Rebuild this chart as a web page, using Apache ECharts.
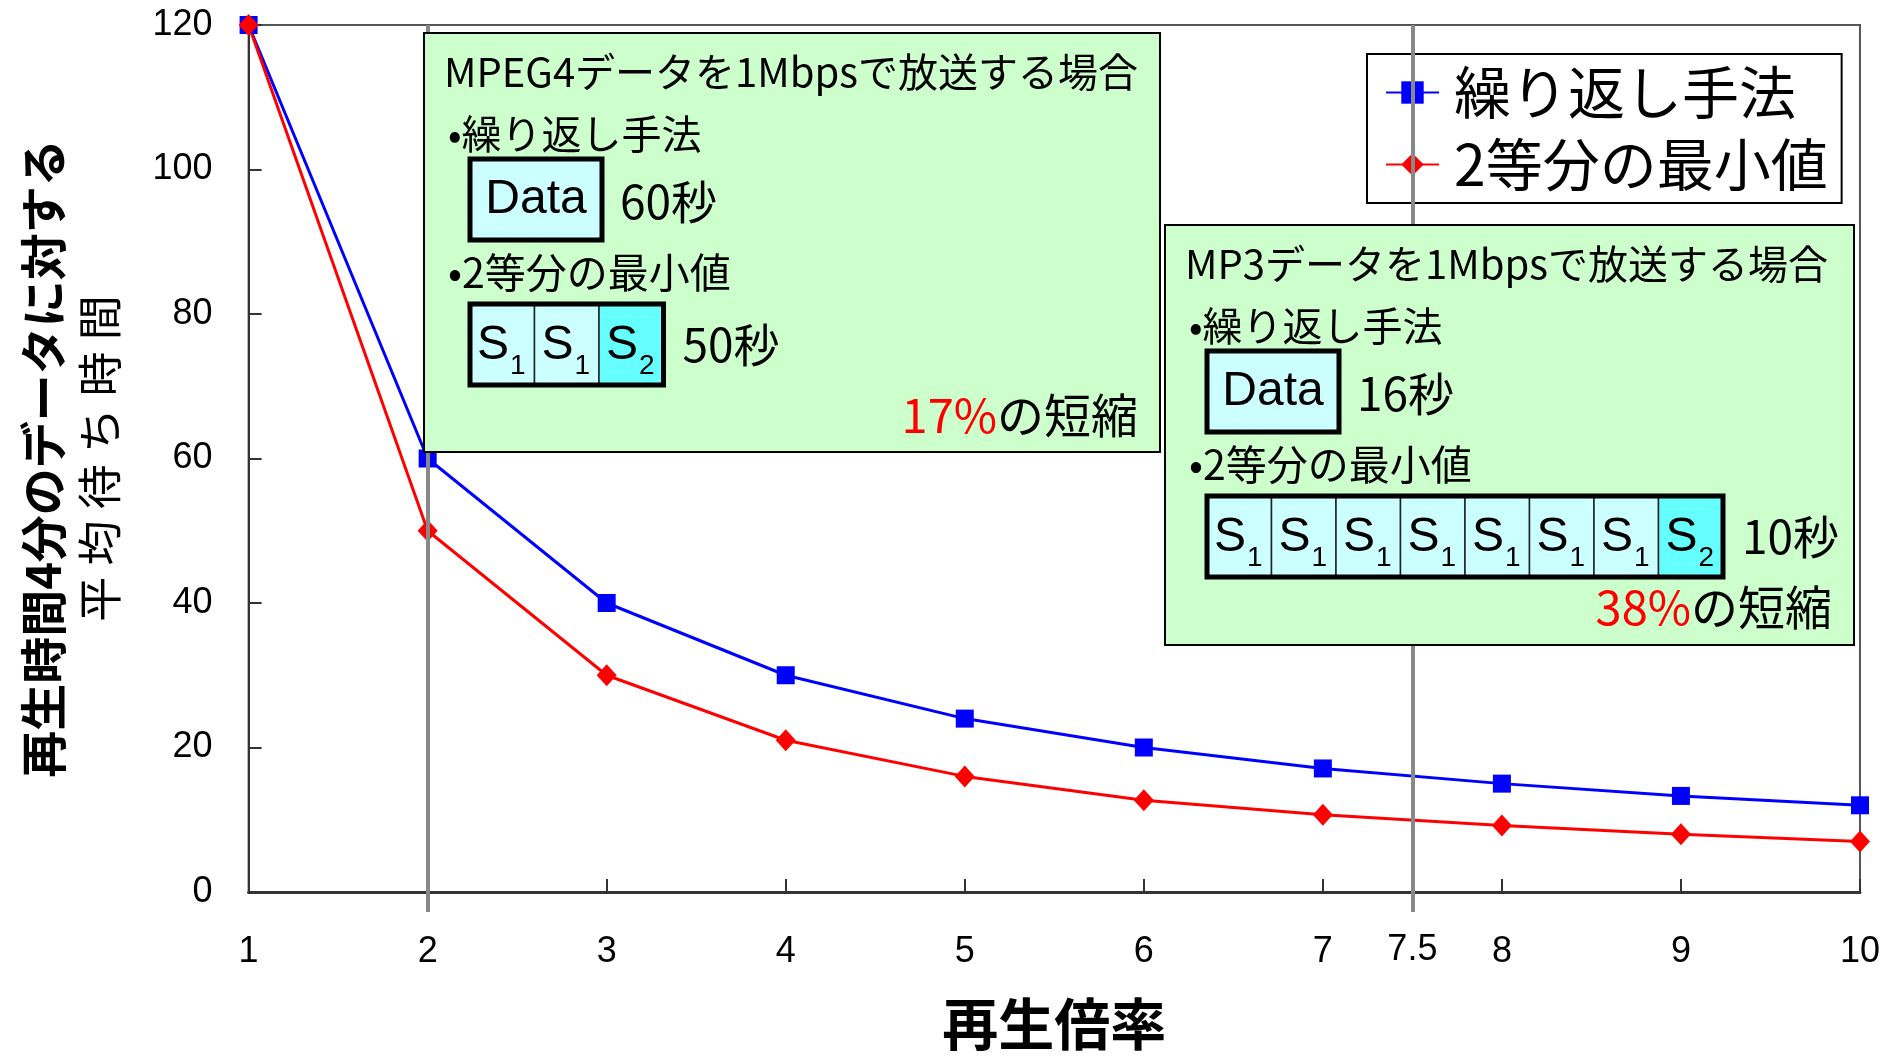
<!DOCTYPE html>
<html>
<head>
<meta charset="utf-8">
<title>再生倍率と平均待ち時間</title>
<script src="https://cdn.jsdelivr.net/npm/echarts@6/dist/echarts.min.js"></script>
<style>
  html, body { margin: 0; padding: 0; background: #fff; }
  #chart { width: 1883px; height: 1057px; }
</style>
</head>
<body>
<div id="chart"></div>
<script>
// 再生倍率
var rates = [1, 2, 3, 4, 5, 6, 7, 8, 9, 10]
// 平均待ち時間 (秒)
var repeatTimes = [120, 60, 40, 30, 24, 20, 17.1, 15, 13.3, 12]
var halfMinTimes = [120, 50, 30, 21, 16, 12.7, 10.7, 9.2, 8, 7]
var seriesNames = ['繰り返し手法', '2等分の最小値']
var guideRates = [2, 7.5]

var mpeg4Lines = ['MPEG4データを1Mbpsで放送する場合', '•繰り返し手法', '60秒', '•2等分の最小値', '50秒']
var mpeg4Cells = ['1', '1', '2']
var mpeg4Gain = ['17%', 'の短縮']
var mp3Lines = ['MP3データを1Mbpsで放送する場合', '•繰り返し手法', '16秒', '•2等分の最小値', '10秒']
var mp3Cells = ['1', '1', '1', '1', '1', '1', '1', '2']
var mp3Gain = ['38%', 'の短縮']

var cjk = "'Noto Sans CJK JP', sans-serif"
var sans = "'Liberation Sans', Arial, sans-serif"

function noteBox(x, y, w, h, pad, lines, cells, gain) {
  var els = []
  function txt(tx, ty, text, size, family, align, color) {
    els.push({
      type: 'text', x: tx, y: ty, z: 60,
      style: { text: text, fontSize: size, fontFamily: family, fill: color || '#000',
        textAlign: align || 'left', textVerticalAlign: 'middle' }
    })
  }
  els.push({ type: 'rect', z: 50, shape: { x: x, y: y, width: w, height: h },
    style: { fill: '#ccffcc', stroke: '#000', lineWidth: 2 } })
  txt(x + 20, y + 39, lines[0], 40, cjk)
  txt(x + 24, y + 101, lines[1], 40, cjk)
  // Data box
  var bx = x + pad
  els.push({ type: 'rect', z: 55, shape: { x: bx, y: y + 126, width: 132, height: 81 },
    style: { fill: '#ccffff', stroke: '#000', lineWidth: 5 } })
  txt(bx + 66, y + 167, 'Data', 48, sans, 'center')
  txt(bx + 150, y + 169, lines[2], 46, cjk)
  txt(x + 24, y + 239, lines[3], 41, cjk)
  // S cells
  var cw = 64.5
  var sy = y + 271
  cells.forEach(function (c, i) {
    els.push({ type: 'rect', z: 55, shape: { x: bx + i * cw, y: sy, width: cw, height: 81 },
      style: { fill: c === '2' ? '#66ffff' : '#ccffff', stroke: '#222', lineWidth: 1.5 } })
    els.push({ type: 'text', z: 60, x: bx + i * cw + 7, y: sy + 42,
      style: { text: 'S', fontSize: 48, fontFamily: sans, fill: '#000', textAlign: 'left', textVerticalAlign: 'middle' } })
    els.push({ type: 'text', z: 60, x: bx + i * cw + 40, y: sy + 62,
      style: { text: c, fontSize: 28, fontFamily: sans, fill: '#000', textAlign: 'left', textVerticalAlign: 'middle' } })
  })
  els.push({ type: 'rect', z: 58, shape: { x: bx, y: sy, width: cw * cells.length, height: 81 },
    style: { fill: null, stroke: '#000', lineWidth: 5 } })
  txt(bx + cw * cells.length + 19, y + 312, lines[4], 46, cjk)
  els.push({
    type: 'text', x: x + w - 22, y: y + 382, z: 60,
    style: {
      text: '{r|' + gain[0] + '}{k|' + gain[1] + '}', textAlign: 'right', textVerticalAlign: 'middle',
      rich: {
        r: { fontSize: 47, fontFamily: cjk, fill: '#ff0000', color: '#ff0000' },
        k: { fontSize: 47, fontFamily: cjk, fill: '#000', color: '#000' }
      }
    }
  })
  return els
}

var chart = echarts.init(document.getElementById('chart'))

chart.setOption({
  animation: false,
  backgroundColor: '#ffffff',
  grid: [
    { left: 248.6, right: 23, top: 25, bottom: 162.7, show: true, borderColor: '#555', borderWidth: 2 },
    { left: 248.6, right: 23, top: 25, bottom: 145 }
  ],
  legend: {
    data: seriesNames,
    orient: 'vertical',
    left: 1367,
    top: 54,
    padding: [9, 14, 9, 18],
    itemGap: 13,
    itemWidth: 53,
    itemHeight: 28,
    borderColor: '#000',
    borderWidth: 2,
    backgroundColor: '#fff',
    textStyle: { fontSize: 57, lineHeight: 59, color: '#000', fontFamily: cjk, padding: [0, 0, 0, 10] }
  },
  xAxis: [{
    type: 'value', min: 1, max: 10, interval: 1,
    name: '再生倍率', nameLocation: 'middle', nameGap: 104,
    nameTextStyle: { fontSize: 56, fontWeight: 'bold', color: '#000', fontFamily: cjk },
    axisLine: { lineStyle: { color: '#333', width: 3 } },
    axisTick: { inside: true, length: 13, lineStyle: { color: '#333', width: 2 } },
    axisLabel: { margin: 42, fontSize: 36, color: '#000', fontFamily: sans },
    splitLine: { show: false }
  }, {
    type: 'value', gridIndex: 1, min: 1, max: 10, show: false
  }],
  yAxis: [{
    type: 'value', min: 0, max: 120, interval: 20,
    name: '{a|再生時間4分のデータに対する}\n{b|平\u2005均\u2005待\u2005ち\u2005時\u2005間}',
    nameLocation: 'middle', nameRotate: 90, nameGap: 120,
    nameTextStyle: {
      rich: {
        a: { fontSize: 47, fontWeight: 'bold', fontFamily: cjk, color: '#000', lineHeight: 57 },
        b: { fontSize: 45, fontFamily: cjk, color: '#000', lineHeight: 57 }
      }
    },
    axisLine: { show: true, lineStyle: { color: '#333', width: 2 } },
    axisTick: { show: true, inside: true, length: 13, lineStyle: { color: '#333', width: 2 } },
    axisLabel: { margin: 36, fontSize: 36, color: '#000', fontFamily: sans },
    splitLine: { show: false }
  }, {
    type: 'value', gridIndex: 1, min: 0, max: 1, show: false
  }],
  series: [{
    name: seriesNames[0],
    type: 'line',
    data: rates.map(function (r, i) { return [r, repeatTimes[i]] }),
    color: '#0000ff',
    lineStyle: { width: 3, color: '#0000ff' },
    symbol: 'rect', symbolSize: 18,
    itemStyle: { color: '#0000ff' }
  }, {
    name: seriesNames[1],
    type: 'line',
    data: rates.map(function (r, i) { return [r, halfMinTimes[i]] }),
    color: '#ff0000',
    lineStyle: { width: 3, color: '#ff0000' },
    symbol: 'diamond', symbolSize: [20, 22],
    itemStyle: { color: '#ff0000' }
  }, {
    type: 'line', xAxisIndex: 1, yAxisIndex: 1, data: [], z: 5,
    markLine: {
      silent: true, symbol: 'none', animation: false,
      lineStyle: { color: '#888', width: 4, type: 'solid' },
      label: { show: false },
      data: guideRates.map(function (r) {
        return {
          xAxis: r,
          label: {
            show: r !== 2, position: 'start', distance: 20, formatter: String(r),
            fontSize: 36, color: '#000', fontFamily: sans
          }
        }
      })
    }
  }],
  graphic: noteBox(424, 33, 736, 419, 46, mpeg4Lines, mpeg4Cells, mpeg4Gain)
    .concat(noteBox(1165, 225, 689, 420, 42, mp3Lines, mp3Cells, mp3Gain))
})
</script>
</body>
</html>
